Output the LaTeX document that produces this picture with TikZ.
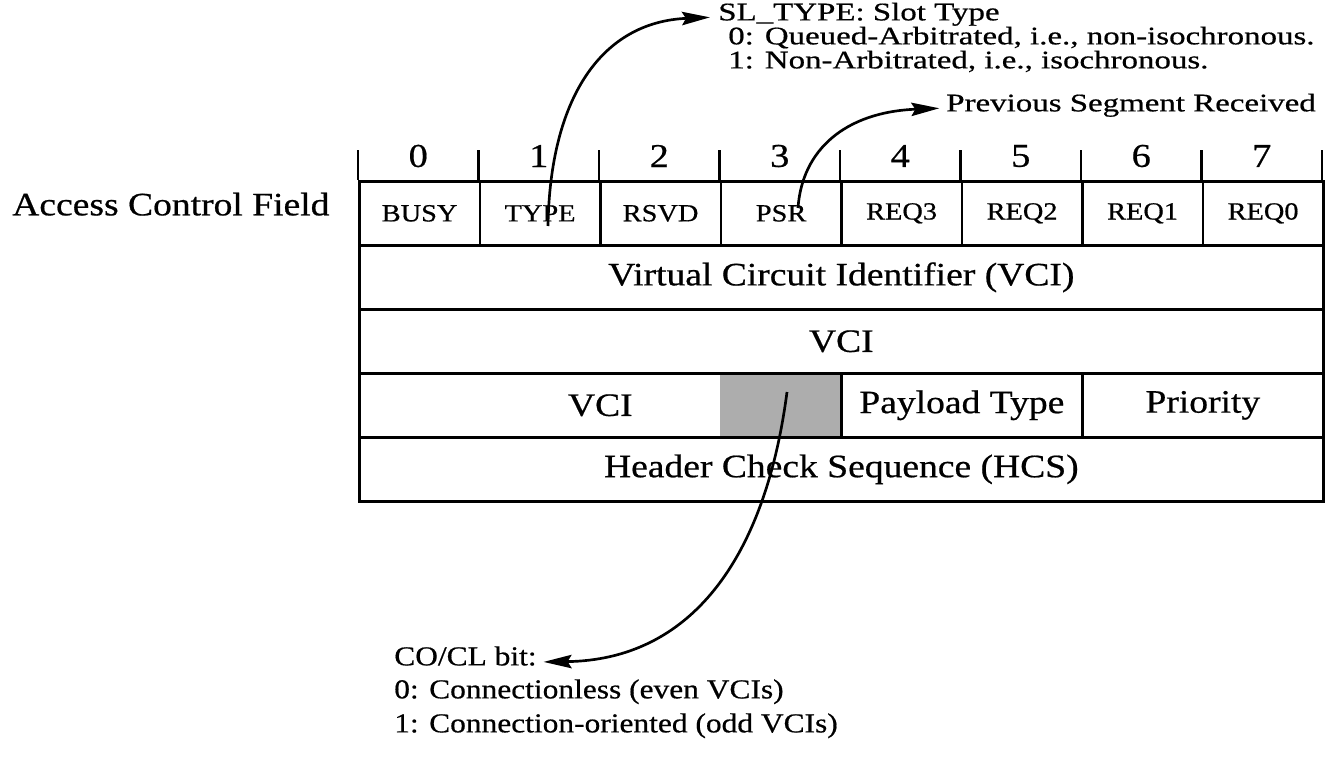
\documentclass[tikz,border=0pt]{standalone}
\usepackage{fontspec}
\setmainfont{Liberation Serif}[FakeStretch=1.15,FakeBold=0.6]
\newfontfamily\annfont{Liberation Serif}[FakeStretch=1.3,FakeBold=0.6]
\usetikzlibrary{arrows.meta}
\begin{document}
\begin{tikzpicture}[x=0.75pt,y=-0.75pt,
  tbl/.style={line width=2pt},
  box/.style={draw, line width=2pt, inner sep=0pt, minimum height={64*0.75pt}, anchor=north west, font=\fontsize{24.5}{28}\selectfont},
  bitbox/.style={box, minimum width={120.5*0.75pt}, font=\fontsize{18.5}{21}\selectfont},
  shadebox/.style={fill=black!32, draw=none, inner sep=0pt, minimum width={120.5*0.75pt}, minimum height={64*0.75pt}, anchor=north west},
  lbl/.style={inner sep=0pt, anchor=west, text height=0.72em, text depth=0.22em},
  num/.style={inner sep=0pt, font=\fontsize{25}{28}\selectfont},
  toptxt/.style={lbl, font=\annfont\fontsize{19}{22}\selectfont},
  bottxt/.style={lbl, font=\fontsize{20.5}{24}\selectfont},
  arr/.style={line width=2pt, -{Stealth[length=21pt,width=10pt,inset=3pt]}},
]
\useasboundingbox (0,0) rectangle (1328,771);

% top annotations
\node[toptxt] (sl)   at (718,17)  {SL\_TYPE: Slot Type};
\node[toptxt] (sl0)  at (728,41)  {0: Queued-Arbitrated, i.e., non-isochronous.};
\node[toptxt] (sl1)  at (728,65)  {1: Non-Arbitrated, i.e., isochronous.};
\node[toptxt] (prev) at (946,108) {Previous Segment Received};

% bit numbers and ticks
\foreach \i in {0,...,7}
  \node[num] (n\i) at ({418.25+120.5*\i},156) {\i};
\foreach \i in {0,...,8}
  \draw[tbl] ({358+120.5*\i},150) -- ({358+120.5*\i},180);

% label
\node[lbl, font=\fontsize{24.5}{28}\selectfont] (acf) at (12,212) {Access Control Field};

% access control field
\foreach \t [count=\i from 0] in {BUSY,TYPE,RSVD,PSR,REQ3,REQ2,REQ1,REQ0}
  \node[bitbox] (b\i) at ({358+120.5*\i},180) {\t};

% remaining rows
\node[box, minimum width={964*0.75pt}] (vci1) at (358,244) {Virtual Circuit Identifier (VCI)};
\node[box, minimum width={964*0.75pt}] (vci2) at (358,308) {VCI};
\node[shadebox] (cocl) at (719.5,372) {};
\node[box, minimum width={482*0.75pt}] (vci3) at (358,372) {VCI};
\node[box, minimum width={241*0.75pt}] (ptype) at (840,372) {Payload Type};
\node[box, minimum width={241*0.75pt}] (prio) at (1081,372) {Priority};
\node[box, minimum width={964*0.75pt}] (hcs) at (358,436) {Header Check Sequence (HCS)};

% bottom annotation
\node[bottxt] (co)  at (394,662) {CO/CL bit:};
\node[bottxt] (co0) at (394,695) {0: Connectionless (even VCIs)};
\node[bottxt] (co1) at (394,729) {1: Connection-oriented (odd VCIs)};

% connectors
\coordinate (t1) at (548,226);
\draw[arr, shorten >=6pt] (t1) .. controls (550,100) and (600,22) .. (sl.west);
\coordinate (t2) at (798,208);
\draw[arr, shorten >=5pt] (t2) .. controls (802,150) and (845,112) .. (prev.west);
\coordinate (t3) at (787,392);
\draw[arr, shorten >=5pt] (t3) .. controls (765,560) and (690,660) .. (co.east);
\end{tikzpicture}
\end{document}
